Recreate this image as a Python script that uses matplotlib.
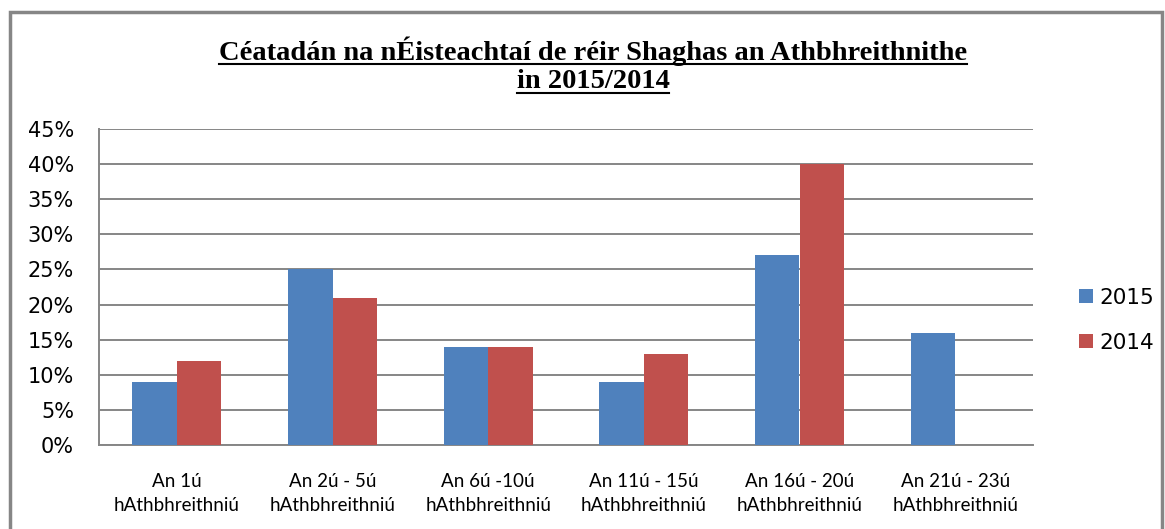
import numpy as np
import matplotlib
matplotlib.use("Agg")
import matplotlib.pyplot as plt
from matplotlib.patches import Rectangle
from matplotlib.lines import Line2D
from matplotlib.ticker import FuncFormatter

# data (percent)
categories = ["An 1ú\nhAthbhreithniú", "An 2ú - 5ú\nhAthbhreithniú",
              "An 6ú -10ú\nhAthbhreithniú", "An 11ú - 15ú\nhAthbhreithniú",
              "An 16ú - 20ú\nhAthbhreithniú", "An 21ú - 23ú\nhAthbhreithniú"]
vals_2015 = [9, 25, 14, 9, 27, 16]
vals_2014 = [12, 21, 14, 13, 40, np.nan]
title_lines = ["Céatadán na nÉisteachtaí de réir Shaghas an Athbhreithnithe",
               "in 2015/2014"]

blue = "#4F81BD"
red = "#C0504D"
grey = "#868686"

W, H = 1165, 529
fig = plt.figure(figsize=(W / 100, H / 100), dpi=100)
ax = fig.add_axes([99 / W, 1 - 445 / H, (1033 - 99) / W, (445 - 129) / H])

x = np.arange(len(categories))
w = 1 / 3.5
ax.bar(x - w / 2, vals_2015, w, color=blue, label="2015", zorder=3)
ax.bar(x + w / 2, vals_2014, w, color=red, label="2014", zorder=3)

ax.set_xlim(-0.5, len(categories) - 0.5)
ax.set_ylim(0, 45)
ax.set_yticks(np.arange(0, 46, 5))
ax.yaxis.set_major_formatter(FuncFormatter(lambda v, p: f"{v:.0f}%"))
ax.yaxis.grid(True, color=grey, linewidth=1.4, zorder=0)
ax.set_axisbelow(True)
ax.tick_params(axis="y", length=0, pad=18, labelsize=15, colors="#000000")
ax.set_xticks(x)
ax.set_xticklabels(categories, fontfamily="Lato", fontsize=13.5, linespacing=1.5)
ax.tick_params(axis="x", length=0, pad=20)
for s in ["top", "right"]:
    ax.spines[s].set_visible(False)
for s in ["left", "bottom"]:
    ax.spines[s].set_color(grey)
    ax.spines[s].set_linewidth(1.4)

leg = fig.legend(loc="upper left", bbox_to_anchor=(1068 / W, 1 - 277 / H),
                 frameon=False, fontsize=15.5, handlelength=0.65, handleheight=0.65,
                 handletextpad=0.3, labelspacing=1.15, borderpad=0)

# outer chart border (display coords, origin bottom-left)
fig.patches.append(Rectangle((10, -20), 1152, H - 12 + 20, transform=None, fill=False,
                             edgecolor=grey, linewidth=2.5, clip_on=False))

# title with underline
t1 = fig.text(0.509, 1 - 51 / H, title_lines[0], ha="center", va="center",
              fontfamily="Liberation Serif", fontweight="bold", fontsize=20.5)
t2 = fig.text(0.509, 1 - 82 / H, title_lines[1], ha="center", va="center",
              fontfamily="Liberation Serif", fontweight="bold", fontsize=20.5)
fig.canvas.draw()
r = fig.canvas.get_renderer()
for t in (t1, t2):
    bb = t.get_window_extent(r)
    y = bb.y0 + 2
    fig.lines.append(Line2D([bb.x0, bb.x1], [y, y], transform=None,
                            color="black", linewidth=1.5))

fig.savefig("out.png", dpi=100)
